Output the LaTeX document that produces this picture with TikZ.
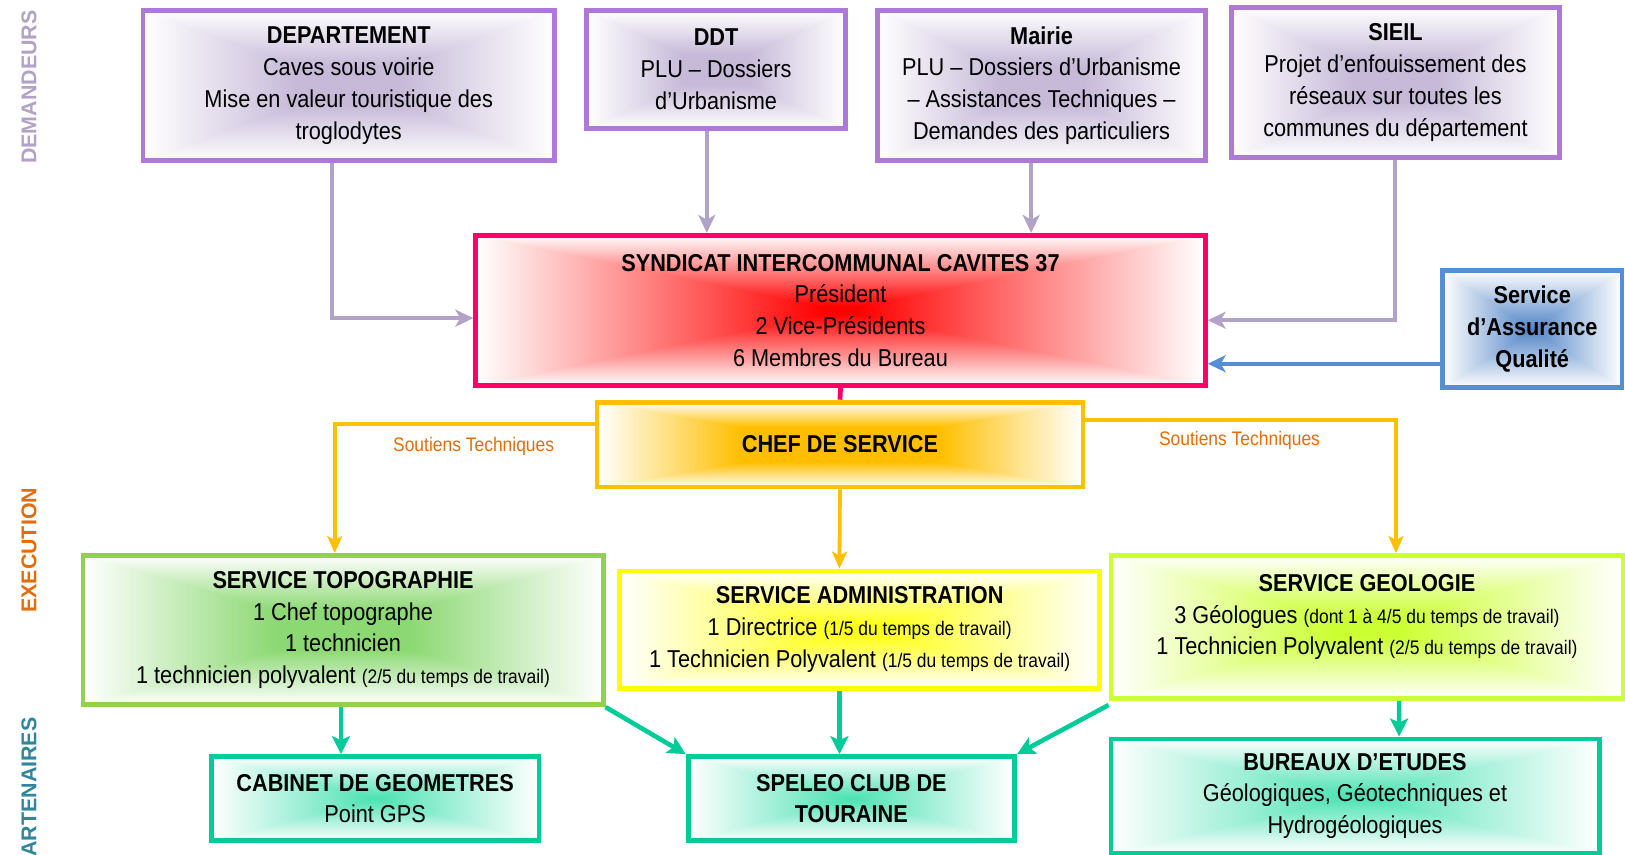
\documentclass[tikz,border=0pt]{standalone}
\usepackage{fontspec}
\setmainfont{Liberation Sans}[FakeStretch=0.89]
\newfontfamily\sidefont{Liberation Sans}
\usetikzlibrary{arrows.meta}

\def\u{0.5182pt}
% rectangular "from centre" fade: name, 1-r, 1-g, 1-b, boost
\newcommand\rectshade[5]{%
 \pgfdeclarefunctionalshading{#1}{\pgfpoint{-50bp}{-50bp}}{\pgfpoint{50bp}{50bp}}{}{%
   abs exch abs 2 copy lt {exch} if pop 25 div
   1 exch sub #5 mul dup 1 gt {pop 1} if dup 0 lt {pop 0} if
   dup dup #2 mul 1 exch sub 3 1 roll #3 mul 1 exch sub exch #4 mul 1 exch sub
 }}
\rectshade{shpurple}{0.22}{0.27}{0.15}{1.35}
\rectshade{shred}{0}{1}{1}{1.05}
\rectshade{shblue}{0.68}{0.48}{0.22}{1.0}
\rectshade{shchef}{0}{0.25}{1}{1.7}
\rectshade{shtopo}{0.45}{0.15}{0.55}{1.35}
\rectshade{shadmin}{0}{0}{1}{1.0}
\rectshade{shgeol}{0.2}{0}{0.8}{1.15}
\rectshade{shteal}{0.75}{0.12}{0.32}{0.95}

\definecolor{cpurple}{HTML}{AE78D6}
\definecolor{cpink}{HTML}{FF0066}
\definecolor{cblue}{HTML}{558ED5}
\definecolor{cchef}{HTML}{FFC000}
\definecolor{ctopo}{HTML}{92D050}
\definecolor{cadmin}{HTML}{FFFF00}
\definecolor{cgeol}{HTML}{CCFF33}
\definecolor{cteal}{HTML}{00CC99}
\definecolor{clav}{HTML}{B3A2C7}
\definecolor{corange}{HTML}{E46C0A}
\definecolor{cpart}{HTML}{31859C}

\newcommand\sm[1]{{\fontsize{9.8}{12}\selectfont #1}}

\begin{document}
\begin{tikzpicture}[x=0.5182pt,y=-0.5182pt,
  corners/.style n args={4}{at={({(#1+#3)/2},{(#2+#4)/2})},
    minimum width={(#3-#1)*0.5182pt}, minimum height={(#4-#2)*0.5182pt}},
  box/.style={draw, line width=2.4pt, inner sep=0pt, align=center,
    font=\fontsize{12.2}{15.9}\selectfont},
  purplebox/.style={box, draw=cpurple, shade, shading=shpurple},
  redbox/.style={box, draw=cpink, shade, shading=shred},
  bluebox/.style={box, draw=cblue, shade, shading=shblue, font=\bfseries\fontsize{12.2}{15.9}\selectfont},
  chefbox/.style={box, draw=cchef, shade, shading=shchef},
  topobox/.style={box, draw=ctopo, shade, shading=shtopo},
  adminbox/.style={box, draw=cadmin, shade, shading=shadmin},
  geolbox/.style={box, draw=cgeol, shade, shading=shgeol},
  tealbox/.style={box, draw=cteal, shade, shading=shteal},
  side/.style={rotate=90, font=\sidefont\bfseries\fontsize{10.7}{12}\selectfont, inner sep=0pt},
  lavarr/.style={draw=clav, line width=2pt, -{Stealth[length=9pt,width=8.5pt,inset=2.5pt]}},
  bluearr/.style={draw=cblue, line width=2pt, -{Stealth[length=9pt,width=8.5pt,inset=2.5pt]}},
  chefarr/.style={draw=cchef, line width=1.9pt, -{Stealth[length=8.5pt,width=7.5pt,inset=2pt]}},
  tealarr/.style={draw=cteal, line width=2.3pt, -{Stealth[length=9pt,width=9pt,inset=2pt]}},
  soutien/.style={text=corange, font=\fontsize{9.8}{12}\selectfont, inner sep=0pt}
]
\useasboundingbox (0,0) rectangle (1568,825);

% side labels
\node[side, text=clav] (ldem) at (28,84) {DEMANDEURS};
\node[side, text=corange] (lexe) at (28,531) {EXECUTION};
\node[side, text=cpart, anchor=east] (lpart) at (28,692) {ARTENAIRES};

% demandeurs
\node[purplebox, corners={138}{10}{535}{155}] (dep) {\textbf{DEPARTEMENT}\\Caves sous voirie\\Mise en valeur touristique des\\troglodytes};
\node[purplebox, corners={566}{10}{816}{124}] (ddt) {\textbf{DDT}\\PLU – Dossiers\\d’Urbanisme};
\node[purplebox, corners={847}{10}{1163}{155}] (mairie) {\textbf{Mairie}\\PLU – Dossiers d’Urbanisme\\– Assistances Techniques –\\Demandes des particuliers};
\node[purplebox, corners={1188}{7}{1505}{152}] (sieil) {\textbf{SIEIL}\\Projet d’enfouissement des\\réseaux sur toutes les\\communes du département};

% syndicat
\node[redbox, corners={459}{227}{1163}{372}] (synd) {\textbf{SYNDICAT INTERCOMMUNAL CAVITES 37}\\Président\\2 Vice-Présidents\\6 Membres du Bureau};
\node[bluebox, corners={1392}{261}{1565}{374}] (qual) {Service\\d’Assurance\\Qualité};

% chef
\node[chefbox, corners={576}{388}{1045}{470}] (chef) {\textbf{CHEF DE SERVICE}};

% services
\node[topobox, corners={80}{536}{582}{680}] (topo) {\textbf{SERVICE TOPOGRAPHIE}\\1 Chef topographe\\1 technicien\\1 technicien polyvalent \sm{(2/5 du temps de travail)}};
\node[adminbox, corners={598}{551}{1061}{664}] (admin) {\textbf{SERVICE ADMINISTRATION}\\1 Directrice \sm{(1/5 du temps de travail)}\\1 Technicien Polyvalent \sm{(1/5 du temps de travail)}};
\node[geolbox, corners={1072}{536}{1566}{674}] (geol) {\textbf{SERVICE GEOLOGIE}\\3 Géologues \sm{(dont 1 à 4/5 du temps de travail)}\\1 Technicien Polyvalent \sm{(2/5 du temps de travail)}\\[-3.5pt]\mbox{}};

% partenaires
\node[tealbox, corners={204}{730}{520}{811}] (cab) {\textbf{CABINET DE GEOMETRES}\\Point GPS};
\node[tealbox, corners={664}{730}{979}{811}] (spel) {\textbf{SPELEO CLUB DE}\\\textbf{TOURAINE}};
\node[tealbox, corners={1072}{713}{1543}{823}] (bur) {\textbf{BUREAUX D’ETUDES}\\Géologiques, Géotechniques et\\Hydrogéologiques};

% demandeurs -> syndicat
\draw[lavarr] ([xshift=-16.5*\u]dep.south) |- ([yshift=-7.5*\u]synd.west);
\draw[lavarr] ([xshift=-9*\u]ddt.south) -- ([xshift=-129*\u]synd.north);
\draw[lavarr] ([xshift=-10*\u]mairie.south) -- ([xshift=184*\u]synd.north);
\draw[lavarr] (sieil.south) |- ([yshift=-9.5*\u]synd.east);
\draw[bluearr] ([yshift=-33.5*\u]qual.west) -- ([yshift=-51.5*\u]synd.east);

% syndicat -> chef
\draw[draw=cpink, line width=2.4pt] (synd.south) -- (chef.north);

% chef -> services
\draw[chefarr] ([yshift=20*\u]chef.west) -| ([xshift=-8*\u]topo.north);
\draw[chefarr] ([yshift=24*\u]chef.east) -| ([xshift=28*\u]geol.north);
\draw[chefarr] (chef.south) -- ([xshift=-19.5*\u]admin.north);
\node[soutien] (st1) at (457,431) {Soutiens Techniques};
\node[soutien] (st2) at (1196,425) {Soutiens Techniques};

% services -> partenaires
\draw[tealarr] ([xshift=-2*\u]topo.south) -- ([xshift=-33*\u]cab.north);
\draw[tealarr] (topo.south east) -- (spel.north west);
\draw[tealarr] ([xshift=-19.5*\u]admin.south) -- ([xshift=-11.5*\u]spel.north);
\draw[tealarr] ([yshift=-4*\u]geol.south west) -- (spel.north east);
\draw[tealarr] ([xshift=31*\u]geol.south) -- ([xshift=42.5*\u]bur.north);
\end{tikzpicture}
\end{document}
